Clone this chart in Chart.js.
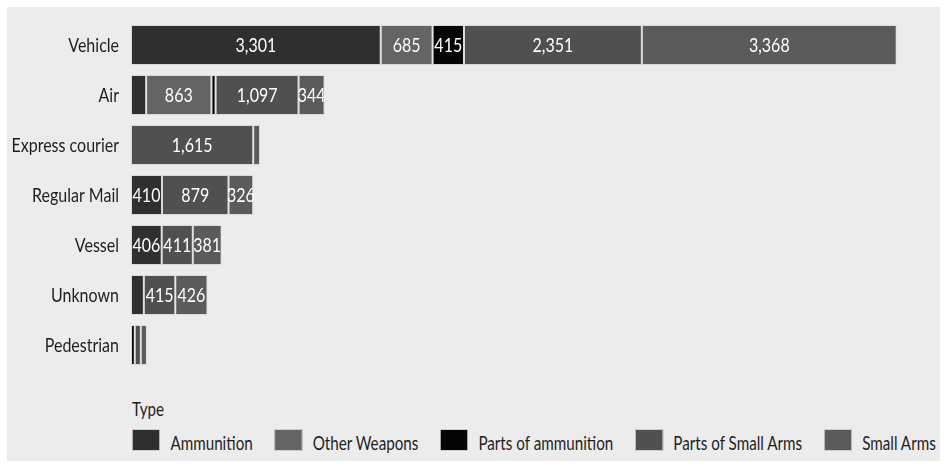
<!DOCTYPE html>
<html>
<head>
<meta charset="utf-8">
<script src="https://cdn.jsdelivr.net/npm/chart.js@4/dist/chart.umd.min.js"></script>
<style>
    html, body { margin: 0; padding: 0; background: #fff; }
    body { width: 945px; height: 468px; position: relative; overflow: hidden; font-family: Lato, sans-serif; }
    #panel { position: absolute; left: 7px; top: 7px; width: 933px; height: 454px; background: #ececec; }
    #chartWrap { position: absolute; left: 0; top: 0; width: 933px; height: 372px; }
    /* text in the reference is narrow, so the legend is laid out wide and squeezed */
    #legend { position: absolute; left: 125px; top: 391px; width: 1100px; color: #1e1e1e; white-space: nowrap;
              transform-origin: 0 0; transform: scaleX(0.8); }
    #legend .title { font-size: 19px; height: 22px; line-height: 22px; margin-bottom: 9px; }
    #legend .items { display: flex; align-items: center; }
    #legend .item { display: flex; align-items: center; margin-right: 27px; flex: none; font-size: 19px; line-height: 22px; }
    #legend .swatch { width: 35px; height: 22px; margin-right: 13px; box-sizing: border-box; border: 1px solid #cfcfcf; }
    #legend .item span { position: relative; top: 3px; }
</style>
</head>
<body>
<div id="panel">
    <div id="chartWrap"><canvas id="chart"></canvas></div>
    <div id="legend">
        <div class="title">Type</div>
        <div class="items" id="legendItems"></div>
    </div>
</div>
<script>
const categories = ['Vehicle', 'Air', 'Express courier', 'Regular Mail', 'Vessel', 'Unknown', 'Pedestrian'];
const types = ['Ammunition', 'Other Weapons', 'Parts of ammunition', 'Parts of Small Arms', 'Small Arms'];

const ammunition = [3301, 200, null, 410, 406, 170, null];
const otherWeapons = [685, 863, null, null, null, null, null];
const partsOfAmmunition = [415, 55, null, null, null, null, 50];
const partsOfSmallArms = [2351, 1097, 1615, 879, 411, 415, 80];
const smallArms = [3368, 344, 90, 326, 381, 426, 80];

const typeColors = ['#2f2f2f', '#646464', '#050505', '#505050', '#5b5b5b'];
const seriesData = [ammunition, otherWeapons, partsOfAmmunition, partsOfSmallArms, smallArms];

// values at or above this get a label inside the segment
const labelMin = 300;
const squeeze = 0.8;

function narrowText(ctx, text, x, y) {
    ctx.save();
    ctx.translate(x, y);
    ctx.scale(squeeze, 1);
    ctx.fillText(text, 0, 0);
    ctx.restore();
}

const valueLabels = {
    id: 'valueLabels',
    afterDatasetsDraw(chart) {
        const ctx = chart.ctx;
        ctx.save();
        ctx.font = '20px Lato';
        ctx.fillStyle = '#ffffff';
        ctx.textAlign = 'center';
        ctx.textBaseline = 'alphabetic';
        chart.data.datasets.forEach((ds, i) => {
            const meta = chart.getDatasetMeta(i);
            meta.data.forEach((bar, j) => {
                const v = ds.data[j];
                if (v == null || v < labelMin) return;
                narrowText(ctx, v.toLocaleString('en-US'), (bar.x + bar.base) / 2, bar.y + 7);
            });
        });
        ctx.restore();
    }
};

// category names, drawn narrow at the y scale's tick positions
const categoryLabels = {
    id: 'categoryLabels',
    afterDraw(chart) {
        const ctx = chart.ctx;
        const yScale = chart.scales.y;
        ctx.save();
        ctx.font = '20px Lato';
        ctx.fillStyle = '#1e1e1e';
        ctx.textAlign = 'right';
        ctx.textBaseline = 'alphabetic';
        categories.forEach((c, i) => {
            narrowText(ctx, c, chart.chartArea.left - 12, yScale.getPixelForTick(i) + 7);
        });
        ctx.restore();
    }
};

new Chart(document.getElementById('chart').getContext('2d'), {
    type: 'bar',
    data: {
        labels: categories,
        datasets: types.map((t, i) => ({
            label: t,
            data: seriesData[i],
            backgroundColor: typeColors[i],
            borderColor: '#d9d9d9',
            borderWidth: 1,
            borderSkipped: false,
            barPercentage: 0.8,
            categoryPercentage: 1
        }))
    },
    options: {
        indexAxis: 'y',
        responsive: true,
        maintainAspectRatio: false,
        animation: false,
        layout: { padding: { top: 13, bottom: 9, left: 0, right: 10 } },
        plugins: {
            legend: { display: false },
            tooltip: { enabled: false }
        },
        scales: {
            x: {
                stacked: true,
                display: false,
                min: 0,
                max: 10560
            },
            y: {
                stacked: true,
                grid: { display: false, drawTicks: false },
                border: { display: false },
                afterFit: (scale) => {
                    scale.width = 124;
                    scale.paddingTop = 0;
                    scale.paddingBottom = 0;
                },
                ticks: { display: false }
            }
        }
    },
    plugins: [valueLabels, categoryLabels]
});

// HTML legend
const legendItems = document.getElementById('legendItems');
types.forEach((t, i) => {
    const item = document.createElement('div');
    item.className = 'item';
    item.innerHTML = `<div class="swatch" style="background:${typeColors[i]}"></div><span>${t}</span>`;
    legendItems.appendChild(item);
});
</script>
</body>
</html>
